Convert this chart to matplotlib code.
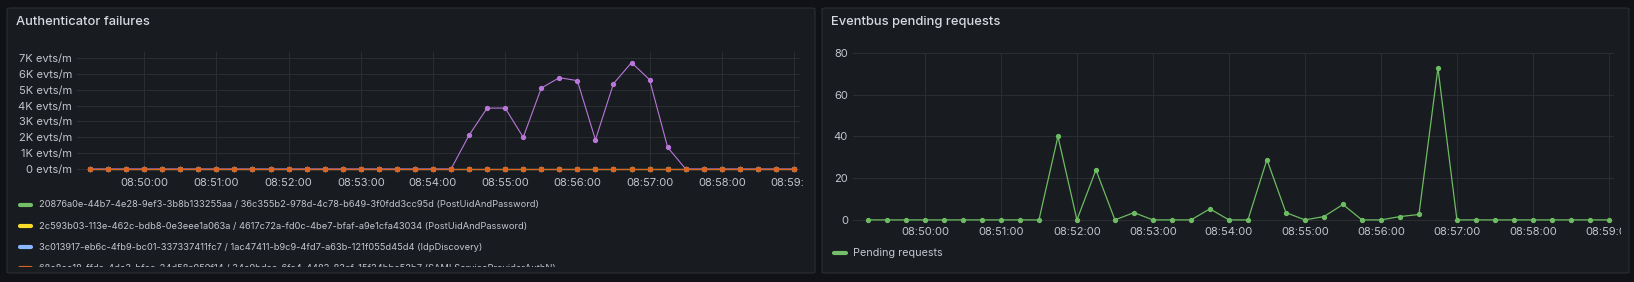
import numpy as np
import pandas as pd
import matplotlib
matplotlib.use('Agg')
import matplotlib.pyplot as plt
import matplotlib.dates as mdates
from matplotlib.patches import FancyBboxPatch
from matplotlib.lines import Line2D
from matplotlib.transforms import Bbox, TransformedBbox

plt.rcParams['font.family'] = ['Inter', 'DejaVu Sans']

# ---- data -------------------------------------------------------------
times = pd.date_range('2024-01-01 08:49:15', '2024-01-01 08:59:00', freq='15s')

auth_labels = [
    '20876a0e-44b7-4e28-9ef3-3b8b133255aa / 36c355b2-978d-4c78-b649-3f0fdd3cc95d (PostUidAndPassword)',
    '2c593b03-113e-462c-bdb8-0e3eee1a063a / 4617c72a-fd0c-4be7-bfaf-a9e1cfa43034 (PostUidAndPassword)',
    '3c013917-eb6c-4fb9-bc01-337337411fc7 / 1ac47411-b9c9-4fd7-a63b-121f055d45d4 (IdpDiscovery)',
    '68e8ee18-ffda-4de3-bfcc-24d58a959f14 / 34e9bdae-6fa4-4482-83cf-15f34bbc52b7 (SAMLServiceProviderAuthN)',
]
auth_colors = ['#73BF69', '#FADE2A', '#8AB8FF', '#DC641C']

# events per minute, one value every 15 s
auth_green = [0] * 40
auth_yellow = [0] * 40
auth_blue = [0] * 40
auth_orange = [0] * 40
auth_purple = [0, 0, 0, 0, 0, 0, 0, 0, 0, 0,
               0, 0, 0, 0, 0, 0, 0, 0, 0, 0,
               0, 2130, 3840, 3840, 2000, 5100, 5760, 5570, 1840, 5380,
               6710, 5630, 1370, 0, 0, 0, 0, 0, 0, 0]

pending = [0, 0, 0, 0, 0, 0, 0, 0, 0, 0,
           40, 0, 24, 0, 3.5, 0, 0, 0, 5.3, 0,
           0, 28.9, 3.5, 0, 1.6, 7.4, 0, 0, 1.6, 2.6,
           72.8, 0, 0, 0, 0, 0, 0, 0, 0, 0]

# ---- style ------------------------------------------------------------
W, H = 1634, 282
BG = '#111217'
PANEL = '#181b1f'
BORDER = '#2a2d32'
GRID = '#2a2d32'
TITLE_C = '#d8d9e0'
TICK_C = '#c4c5cf'


def fx(x):
    return x / W


def fy(y):
    return 1 - y / H


def axes_rect(x0, y0, x1, y1):
    return [fx(x0), fy(y1), fx(x1) - fx(x0), fy(y0) - fy(y1)]


def clipbox(x0, y0, x1, y1):
    return TransformedBbox(Bbox.from_extents(fx(x0), fy(y1), fx(x1), fy(y0)), fig.transFigure)


fig = plt.figure(figsize=(W / 100, H / 100), dpi=100, facecolor=BG)

# panels
for x0, x1 in [(7, 815), (822, 1629)]:
    fig.patches.append(FancyBboxPatch((fx(x0), fy(273)), fx(x1) - fx(x0), fy(8) - fy(273),
                                      boxstyle='round,pad=0,rounding_size=0.003',
                                      transform=fig.transFigure, facecolor=PANEL,
                                      edgecolor=BORDER, linewidth=0.8, zorder=-5))

fig.text(fx(16), fy(22), 'Authenticator failures', color=TITLE_C, fontsize=9.3,
         fontweight='medium', va='center', ha='left')
fig.text(fx(831), fy(22), 'Eventbus pending requests', color=TITLE_C, fontsize=9.3,
         fontweight='medium', va='center', ha='left')


def style_axes(ax):
    ax.set_facecolor('none')
    ax.set_zorder(2)
    for s in ax.spines.values():
        s.set_visible(False)
    ax.grid(True, color=GRID, linewidth=0.75)
    ax.set_axisbelow(True)
    ax.tick_params(length=0, colors=TICK_C, labelsize=8.0)
    ax.xaxis.set_major_locator(mdates.MinuteLocator())
    ax.xaxis.set_major_formatter(mdates.DateFormatter('%H:%M:%S'))


# ---- left: authenticator failures --------------------------------------
ax1 = fig.add_axes(axes_rect(77, 52, 800, 172))
style_axes(ax1)
for vals, col, z in [(auth_green, auth_colors[0], 2), (auth_yellow, auth_colors[1], 2),
                     (auth_blue, auth_colors[2], 2), (auth_purple, '#B877D9', 3),
                     (auth_orange, auth_colors[3], 4)]:
    ax1.plot(times, vals, color=col, lw=0.8, marker='o', ms=2.8, zorder=z, clip_on=False)
ax1.set_xlim(pd.Timestamp('2024-01-01 08:49:04.2'), pd.Timestamp('2024-01-01 08:59:05'))
ax1.set_ylim(-189, 7378)
ax1.set_yticks(np.arange(0, 7001, 1000))
ax1.set_yticklabels(['0 evts/m'] + ['%dK evts/m' % k for k in range(1, 8)])
ax1.tick_params(axis='x', pad=4.5)
ax1.tick_params(axis='y', pad=3.6)

# legend, scrolled area clipped at the panel bottom
for i, (lab, col) in enumerate(zip(auth_labels, auth_colors)):
    yy = 205 + i * 21
    ln = Line2D([fx(20), fx(31)], [fy(yy), fy(yy)], transform=fig.transFigure,
                color=col, lw=3, solid_capstyle='round')
    fig.lines.append(ln)
    t = fig.text(fx(39), fy(yy), lab, color=TICK_C, fontsize=6.7, va='center', ha='left')
    for a in (ln, t):
        a.set_clip_box(clipbox(7, 190, 815, 267))
        a.set_clip_on(True)

# ---- right: eventbus pending requests -----------------------------------
ax2 = fig.add_axes(axes_rect(853, 53, 1614, 222))
style_axes(ax2)
ax2.plot(times, pending, color='#6DBB63', lw=0.9, marker='o', ms=2.8, clip_on=False)
ax2.set_xlim(pd.Timestamp('2024-01-01 08:49:03.2'), pd.Timestamp('2024-01-01 08:59:04'))
ax2.set_ylim(-1, 80)
ax2.set_yticks([0, 20, 40, 60, 80])
ax2.tick_params(axis='x', pad=3.8)
ax2.tick_params(axis='y', pad=3.6)

fig.lines.append(Line2D([fx(834), fx(846)], [fy(253), fy(253)], transform=fig.transFigure,
                        color='#73BF69', lw=3, solid_capstyle='round'))
fig.text(fx(853), fy(253), 'Pending requests', color=TICK_C, fontsize=7.8,
         va='center', ha='left')

# clip the last time label at the plot edge like the reference
fig.canvas.draw()
for ax, xr in [(ax1, 803), (ax2, 1621)]:
    for lab in ax.get_xticklabels():
        lab.set_clip_box(clipbox(0, 0, xr, H))
        lab.set_clip_on(True)

fig.savefig('out.png', dpi=100, facecolor=BG)
